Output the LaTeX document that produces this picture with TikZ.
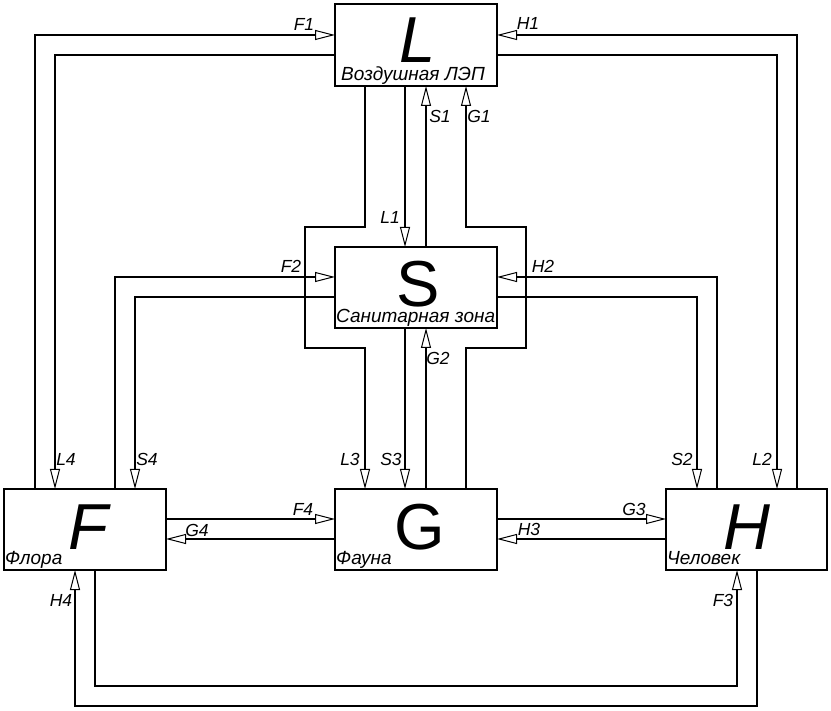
\documentclass[tikz,border=0pt]{standalone}
\usepackage{fontspec}
\setmainfont{Liberation Sans}
\usetikzlibrary{arrows.meta}
\begin{document}
\begin{tikzpicture}[x=1pt,y=-1pt,
  box/.style={draw,line width=1.4pt,rectangle,inner sep=0pt,outer sep=0pt},
  conn/.style={line width=1.3pt},
  arr/.style={conn,-{Triangle[open,length=20pt,width=10pt,line width=1pt]}},
  big/.style={font=\fontsize{65}{65}\selectfont,anchor=base,inner sep=0pt,text depth=0pt,text height=46pt},
  bigit/.style={big,font=\fontsize{65}{65}\selectfont\itshape},
  sub/.style={font=\fontsize{19}{19}\selectfont\itshape,anchor=base west,inner sep=0pt,text height=13pt,text depth=3pt},
  lbl/.style={font=\fontsize{17.5}{17.5}\selectfont\itshape,inner sep=0pt}]
\useasboundingbox (0,0) rectangle (831,711);
\fill[white] (0,0) rectangle (831,711);
% boxes
\node[box,minimum width=162pt,minimum height=82pt] (L) at (416,45) {};
\node[box,minimum width=162pt,minimum height=81pt] (S) at (416,287.5) {};
\node[box,minimum width=162pt,minimum height=81pt] (F) at (85,529.5) {};
\node[box,minimum width=162pt,minimum height=81pt] (G) at (416,529.5) {};
\node[box,minimum width=161pt,minimum height=81pt] (H) at (746.5,529.5) {};
% big letters
\node[bigit] (tL) at (418,63) {L};
\node[big] (tS) at (418,307) {S};
\node[bigit] (tF) at (88,549) {F};
\node[big] (tG) at (420,549) {G};
\node[bigit] (tH) at (747,549) {H};
% subtitles
\node[sub] (sL) at (341,81) {Воздушная ЛЭП};
\node[sub] (sS) at (336,323) {Санитарная зона};
\node[sub] (sF) at (5,565) {Флора};
\node[sub] (sG) at (336,565) {Фауна};
\node[sub] (sH) at (667,565) {Человек};
% lane coordinates
\coordinate (p1) at (35,35);
\coordinate (p2) at (55,55);
\coordinate (p3) at (797,35);
\coordinate (p4) at (777,55);
\coordinate (p5) at (405,0);
\coordinate (p6) at (426,0);
\coordinate (g1a) at (466,348);
\coordinate (g1b) at (526,227);
\coordinate (l3a) at (365,227);
\coordinate (l3b) at (305,348);
\coordinate (f2) at (115,277);
\coordinate (s4) at (135,297);
\coordinate (h2) at (717,277);
\coordinate (s2) at (697,297);
\coordinate (r1) at (0,519);
\coordinate (r2) at (0,539);
\coordinate (h4a) at (757,706);
\coordinate (h4b) at (75,706);
\coordinate (f3a) at (95,686);
\coordinate (f3b) at (737,686);
% connectors
\draw[arr] (F.north -| p1) |- (L.west |- p1);
\draw[arr] (L.west |- p2) -| (F.north -| p2);
\draw[arr] (H.north -| p3) |- (L.east |- p3);
\draw[arr] (L.east |- p4) -| (H.north -| p4);
\draw[arr] (L.south -| p5) -- (S.north -| p5);
\draw[arr] (S.north -| p6) -- (L.south -| p6);
\draw[arr] (G.north -| g1a) -- (g1a) -| (g1b) -| (L.south -| g1a);
\draw[arr] (L.south -| l3a) -- (l3a) -| (l3b) -| (G.north -| l3a);
\draw[arr] (S.south -| p5) -- (G.north -| p5);
\draw[arr] (G.north -| p6) -- (S.south -| p6);
\draw[arr] (F.north -| f2) |- (S.west |- f2);
\draw[arr] (S.west |- s4) -| (F.north -| s4);
\draw[arr] (H.north -| h2) |- (S.east |- h2);
\draw[arr] (S.east |- s2) -| (H.north -| s2);
\draw[arr] (F.east |- r1) -- (G.west |- r1);
\draw[arr] (G.west |- r2) -- (F.east |- r2);
\draw[arr] (G.east |- r1) -- (H.west |- r1);
\draw[arr] (H.west |- r2) -- (G.east |- r2);
\draw[arr] (H.south -| h4a) -- (h4a) -- (h4b) -- (F.south -| h4b);
\draw[arr] (F.south -| f3a) -- (f3a) -- (f3b) -- (H.south -| f3b);
% labels
\node[lbl] (lF1) at (304,24) {F1};
\node[lbl] (lH1) at (528,23) {H1};
\node[lbl] (lL1) at (390,217) {L1};
\node[lbl] (lS1) at (440,116) {S1};
\node[lbl] (lG1) at (479,116) {G1};
\node[lbl] (lF2) at (291,266) {F2};
\node[lbl] (lH2) at (543,266) {H2};
\node[lbl] (lG2) at (438,358) {G2};
\node[lbl] (lL4) at (66,459) {L4};
\node[lbl] (lS4) at (147,459) {S4};
\node[lbl] (lL3) at (350,459) {L3};
\node[lbl] (lS3) at (391,459) {S3};
\node[lbl] (lS2) at (682,459) {S2};
\node[lbl] (lL2) at (762,459) {L2};
\node[lbl] (lF4) at (303,509) {F4};
\node[lbl] (lG4) at (197,530) {G4};
\node[lbl] (lG3) at (634,509) {G3};
\node[lbl] (lH3) at (529,529) {H3};
\node[lbl] (lH4) at (61,600) {H4};
\node[lbl] (lF3) at (723,600) {F3};
\end{tikzpicture}
\end{document}
